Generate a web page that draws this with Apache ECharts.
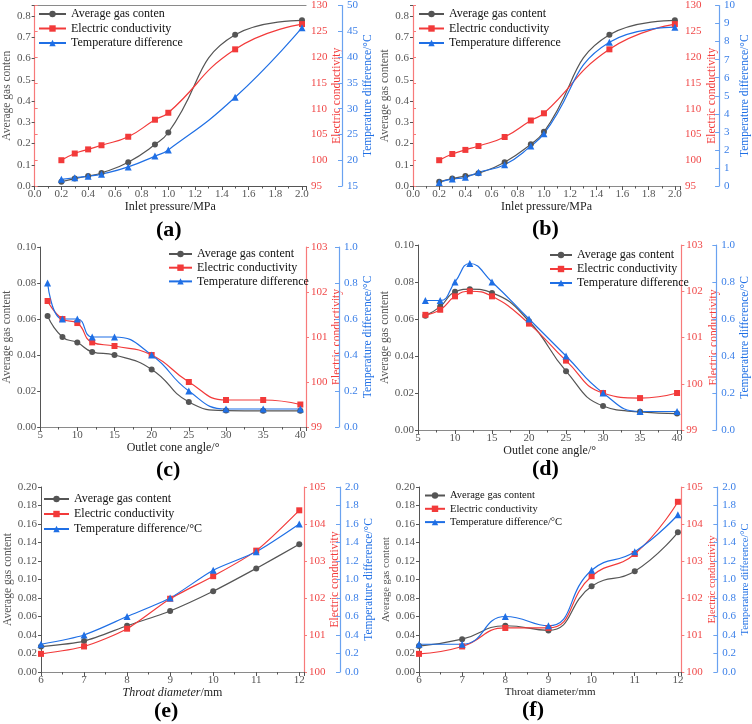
<!DOCTYPE html>
<html><head><meta charset="utf-8">
<script src="https://cdn.jsdelivr.net/npm/echarts@6/dist/echarts.min.js"></script>
<style>html,body{margin:0;padding:0;background:#fff}#c{width:752px;height:724px}</style>
</head><body><div id="c"></div>
<script>
// ---------- data ----------
const xA = [0.2, 0.3, 0.4, 0.5, 0.7, 0.9, 1.0, 1.5, 2.0];
const gasA = [0.020, 0.035, 0.047, 0.061, 0.112, 0.195, 0.252, 0.712, 0.780];
const ecA = [100.0, 101.3, 102.1, 102.9, 104.55, 107.85, 109.2, 121.5, 126.4];
const tdA = [16.3, 16.6, 16.9, 17.3, 18.7, 20.8, 22.0, 32.2, 45.7];

const xB = [0.2, 0.3, 0.4, 0.5, 0.7, 0.9, 1.0, 1.5, 2.0];
const gasB = [0.020, 0.035, 0.047, 0.060, 0.112, 0.197, 0.255, 0.712, 0.780];
const ecB = [100.0, 101.2, 102.0, 102.75, 104.5, 107.7, 109.1, 121.5, 126.4];
const tdB = [0.20, 0.39, 0.48, 0.76, 1.18, 2.21, 2.90, 7.97, 8.80];

const xC = [6, 8, 10, 12, 15, 20, 25, 30, 35, 40];
const gasC = [0.0617, 0.050, 0.0469, 0.0417, 0.040, 0.032, 0.0139, 0.0091, 0.009, 0.009];
const ecC = [101.8, 101.4, 101.31, 100.88, 100.8, 100.6, 100.0, 99.6, 99.6, 99.5];
const tdC = [0.80, 0.60, 0.60, 0.50, 0.50, 0.40, 0.20, 0.10, 0.10, 0.10];

const xD = [6, 8, 10, 12, 15, 20, 25, 30, 35, 40];
const gasD = [0.0618, 0.0667, 0.0747, 0.0761, 0.0741, 0.0588, 0.0318, 0.013, 0.0098, 0.0089];
const ecD = [101.49, 101.6, 101.89, 102.0, 101.89, 101.3, 100.5, 99.8, 99.69, 99.8];
const tdD = [0.70, 0.70, 0.80, 0.90, 0.80, 0.60, 0.40, 0.20, 0.10, 0.10];

const xE = [6, 7, 8, 9, 10, 11, 12];
const gasE = [0.0275, 0.0334, 0.050, 0.066, 0.0873, 0.112, 0.138];
const ecE = [100.49, 100.69, 101.17, 101.98, 102.59, 103.28, 104.37];
const tdE = [0.30, 0.40, 0.60, 0.80, 1.10, 1.30, 1.60];

const xF = [6, 7, 8, 9, 10, 11, 12];
const gasF = [0.028, 0.0355, 0.050, 0.045, 0.0926, 0.109, 0.151];
const ecF = [100.49, 100.69, 101.19, 101.19, 102.59, 103.19, 104.6];
const tdF = [0.30, 0.30, 0.60, 0.50, 1.10, 1.30, 1.70];

const panelLabels = ['(a)', '(b)', '(c)', '(d)', '(e)', '(f)'];
const xNames = ['Inlet pressure/MPa', 'Inlet pressure/MPa', 'Outlet cone angle/°', 'Outlet cone angle/°', '{i|Throat diameter}/mm', 'Throat diameter/mm'];
const gasNames = ['Average gas conten', 'Average gas content', 'Average gas content', 'Average gas content', 'Average gas content', 'Average gas content'];
const ecName = 'Electric conductivity';
const tdNames = ['Temperature difference', 'Temperature difference', 'Temperature difference', 'Temperature difference', 'Temperature difference/°C', 'Temperature difference/°C'];
const tdAxisName = 'Temperature difference/°C';

// ---------- styling ----------
const FONT = 'Liberation Serif';
const GRAY = '#555555', RED = '#f23a3a', BLUE = '#1f6fe5';
const RED_AX = '#f77a7a', BLUE_AX = '#6aa2f0';

const grids = [], xAxes = [], yAxes = [], series = [], legends = [], graphics = [];

function onGrid(v, int) { const r = v / int; return Math.abs(r - Math.round(r)) < 1e-6; }

function panel(p) {
  const gi = grids.length;
  grids.push({ left: p.left, top: p.top, width: p.w, height: p.h });
  const xi = xAxes.length;
  xAxes.push({
    type: 'value', gridIndex: gi, min: p.xmin, max: p.xmax, interval: p.xint,
    name: p.xname, nameLocation: 'middle', nameGap: p.xgap,
    nameTextStyle: { fontFamily: FONT, fontSize: p.nfs || 12, color: '#222', rich: { i: { fontStyle: 'italic', fontFamily: FONT, fontSize: p.nfs || 12, color: '#222' } } },
    axisLine: { lineStyle: { color: GRAY, width: 1 } },
    axisTick: { length: 4, lineStyle: { color: GRAY } },
    minorTick: { show: true, splitNumber: 2, length: 2.5, lineStyle: { color: GRAY } },
    splitLine: { show: false },
    axisLabel: { margin: 3, fontFamily: FONT, fontSize: 11, color: '#555',
      formatter: v => onGrid(v - p.xmin, p.xint) ? v.toFixed(p.xdec) : '' }
  });
  xAxes.push({
    type: 'value', gridIndex: gi, position: 'top', min: p.xmin, max: p.xmax,
    axisLine: { lineStyle: { color: '#8a8a8a', width: 1.2 } },
    axisTick: { show: false }, axisLabel: { show: false }, splitLine: { show: false }
  });
  const yi = yAxes.length;
  yAxes.push({
    type: 'value', gridIndex: gi, position: 'left', min: 0, max: p.gmax, interval: p.gint,
    name: p.gname, nameLocation: 'middle', nameGap: p.lgap,
    nameTextStyle: { fontFamily: FONT, fontSize: p.yfs || 11.5, color: '#555' },
    axisLine: { show: true, lineStyle: { color: GRAY } },
    axisTick: { show: true, length: 3, lineStyle: { color: GRAY } },
    splitLine: { show: false },
    axisLabel: { margin: 4, fontFamily: FONT, fontSize: 11, color: '#555',
      formatter: v => onGrid(v, p.gint) ? v.toFixed(p.gdec) : '' }
  });
  yAxes.push({
    type: 'value', gridIndex: gi, position: 'right', min: p.emin, max: p.emax, interval: p.eint,
    name: ecName, nameLocation: 'middle', nameGap: p.rgap,
    nameTextStyle: { fontFamily: FONT, fontSize: p.yfs || 11.5, color: RED },
    axisLine: { show: true, lineStyle: { color: RED_AX, width: 1.2 } },
    axisTick: { show: true, length: 3, lineStyle: { color: RED_AX } },
    splitLine: { show: false },
    axisLabel: { margin: 5, fontFamily: FONT, fontSize: 11, color: '#f04848' }
  });
  yAxes.push({
    type: 'value', gridIndex: gi, position: 'right', offset: p.boff, min: p.tmin, max: p.tmax, interval: p.tint,
    name: tdAxisName, nameLocation: 'middle', nameGap: p.bgap,
    nameTextStyle: { fontFamily: FONT, fontSize: p.yfs || 11.5, color: BLUE },
    axisLine: { show: true, lineStyle: { color: BLUE_AX, width: 1.2 } },
    axisTick: { show: true, inside: true, length: 4, lineStyle: { color: BLUE_AX } },
    splitLine: { show: false },
    axisLabel: { margin: 5, fontFamily: FONT, fontSize: 11, color: '#3a7fe8',
      formatter: v => v.toFixed(p.tdec) }
  });
  const mk = (arr) => p.x.map((x, i) => [x, arr[i]]);
  const common = { type: 'line', xAxisIndex: xi, smooth: p.smooth, lineStyle: { width: 1.2 } };
  series.push(Object.assign({}, common, { name: p.gname2, yAxisIndex: yi, data: mk(p.gas), symbol: 'circle', symbolSize: 6,
    itemStyle: { color: GRAY }, lineStyle: { width: 1.2, color: GRAY } }));
  series.push(Object.assign({}, common, { name: ecName, yAxisIndex: yi + 1, data: mk(p.ec), symbol: 'rect', symbolSize: 6,
    itemStyle: { color: RED }, lineStyle: { width: 1.2, color: RED } }));
  series.push(Object.assign({}, common, { name: p.tdname, yAxisIndex: yi + 2, data: mk(p.td), symbol: 'triangle', symbolSize: 7,
    itemStyle: { color: BLUE }, lineStyle: { width: 1.2, color: BLUE } }));
  legends.push({
    orient: 'vertical', left: p.lgLeft, top: p.lgTop, padding: 0, itemWidth: p.lgW, itemHeight: 8, itemGap: p.lgGap,
    data: [p.gname2, ecName, p.tdname], selectedMode: false,
    textStyle: { fontFamily: FONT, fontSize: p.lgFs, lineHeight: p.lgFs, color: '#111' }
  });
  graphics.push({ type: 'text', left: p.labX - 14, top: p.labY - 12,
    style: { text: p.label, font: 'bold 22px "Liberation Serif"', fill: '#000' } });
}

panel({ left: 33, top: 5, w: 273, h: 181, x: xA, xmin: 0, xmax: 2.03, xint: 0.2, xdec: 1, xname: xNames[0], xgap: 13,
  gmax: 0.85, gint: 0.1, gdec: 1, gname: gasNames[0], gname2: gasNames[0], lgap: 18,
  emin: 95, emax: 130, eint: 5, rgap: 24, boff: 36, tmin: 15, tmax: 50, tint: 5, tdec: 0, bgap: 18,
  gas: gasA, ec: ecA, td: tdA, tdname: tdNames[0], smooth: 0.5,
  lgLeft: 38, lgTop: 8, lgW: 27, lgGap: 2.5, lgFs: 12, label: panelLabels[0], labX: 170, labY: 231 });

panel({ left: 413, top: 5, w: 271, h: 181, x: xB, xmin: 0, xmax: 2.04, xint: 0.2, xdec: 1, xname: xNames[1], xgap: 13,
  gmax: 0.85, gint: 0.1, gdec: 1, gname: gasNames[1], gname2: gasNames[1], lgap: 19,
  emin: 95, emax: 130, eint: 5, rgap: 26, boff: 39, tmin: 0, tmax: 10, tint: 1, tdec: 0, bgap: 14,
  gas: gasB, ec: ecB, td: tdB, tdname: tdNames[1], smooth: 0.5,
  lgLeft: 418, lgTop: 8, lgW: 25, lgGap: 2.5, lgFs: 12, label: panelLabels[1], labX: 546, labY: 230 });

panel({ left: 39, top: 247, w: 267, h: 180, x: xC, xmin: 5, xmax: 40.76, xint: 5, xdec: 0, xname: xNames[2], xgap: 14,
  gmax: 0.1, gint: 0.02, gdec: 2, gname: gasNames[2], gname2: gasNames[2], lgap: 24,
  emin: 99, emax: 103, eint: 1, rgap: 25, boff: 33, tmin: 0, tmax: 1.0, tint: 0.2, tdec: 1, bgap: 21,
  gas: gasC, ec: ecC, td: tdC, tdname: tdNames[2], smooth: 0.5,
  lgLeft: 168, lgTop: 248, lgW: 23, lgGap: 1.7, lgFs: 12, label: panelLabels[2], labX: 170, labY: 471 });

panel({ left: 418, top: 245, w: 264, h: 185, x: xD, xmin: 5, xmax: 40.58, xint: 5, xdec: 0, xname: xNames[3], xgap: 14,
  gmax: 0.1, gint: 0.02, gdec: 2, gname: gasNames[3], gname2: gasNames[3], lgap: 25,
  emin: 99, emax: 103, eint: 1, rgap: 27, boff: 35, tmin: 0, tmax: 1.0, tint: 0.2, tdec: 1, bgap: 20,
  gas: gasD, ec: ecD, td: tdD, tdname: tdNames[3], smooth: 0.5,
  lgLeft: 549, lgTop: 249, lgW: 22, lgGap: 2, lgFs: 12, label: panelLabels[3], labX: 546, labY: 470 });

panel({ left: 41, top: 487, w: 263, h: 185, x: xE, xmin: 6, xmax: 12.11, xint: 1, xdec: 0, xname: xNames[4], xgap: 13,
  gmax: 0.2, gint: 0.02, gdec: 2, gname: gasNames[4], gname2: gasNames[4], lgap: 24,
  emin: 100, emax: 105, eint: 1, rgap: 23, boff: 36, tmin: 0, tmax: 2.0, tint: 0.2, tdec: 1, bgap: 19,
  gas: gasE, ec: ecE, td: tdE, tdname: tdNames[4], smooth: 0.25,
  lgLeft: 43, lgTop: 493, lgW: 25, lgGap: 3, lgFs: 12, label: panelLabels[4], labX: 168, labY: 712 });

panel({ left: 419, top: 487, w: 264, h: 185, x: xF, xmin: 6, xmax: 12.08, xint: 1, xdec: 0, xname: xNames[5], xgap: 15, nfs: 11,
  gmax: 0.2, gint: 0.02, gdec: 2, gname: gasNames[5], gname2: gasNames[5], lgap: 25, yfs: 10.5,
  emin: 100, emax: 105, eint: 1, rgap: 22, boff: 36, tmin: 0, tmax: 2.0, tint: 0.2, tdec: 1, bgap: 21,
  gas: gasF, ec: ecF, td: tdF, tdname: tdNames[5], smooth: 0.5,
  lgLeft: 424, lgTop: 490, lgW: 20, lgGap: 2.3, lgFs: 10.5, label: panelLabels[5], labX: 536, labY: 711 });

const chart = echarts.init(document.getElementById('c'), null, { renderer: 'canvas' });
chart.setOption({
  animation: false,
  backgroundColor: '#fff',
  grid: grids, xAxis: xAxes, yAxis: yAxes, series: series, legend: legends,
  graphic: graphics
});
</script></body></html>
